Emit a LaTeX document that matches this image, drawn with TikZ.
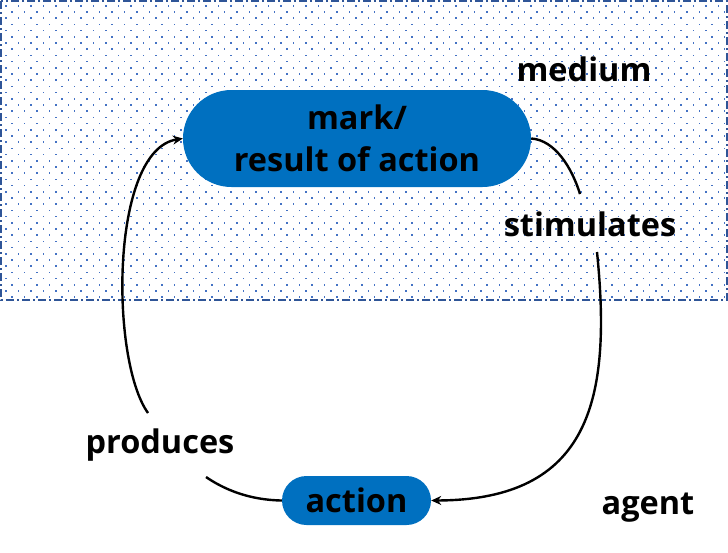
\documentclass[tikz,border=0pt]{standalone}
\usepackage{fontspec}
\setmainfont{Open Sans}
\usetikzlibrary{shapes.misc,arrows.meta}
\definecolor{pillc}{HTML}{0070C0}
\definecolor{dotc}{HTML}{4472C4}
\definecolor{framec}{HTML}{2F5597}
\tikzset{
  pill/.style={rounded rectangle, fill=pillc, draw=none, align=center, font=\fontsize{32.5}{42}\selectfont\bfseries, text=black, inner sep=0pt},
  lbl/.style={font=\fontsize{32.5}{38}\selectfont\bfseries, text=black, inner sep=0pt},
  conn/.style={line width=2.4pt, black},
  arr/.style={conn, -{Stealth[length=10pt,width=9pt]}}
}
\begin{document}
\begin{tikzpicture}[x=1pt,y=-1pt]
\useasboundingbox (0,0) rectangle (728,552);
\fill[white] (0,0) rectangle (728,552);
\foreach \j in {0,...,47}{
  \foreach \i in {0,...,57}{
    \fill[dotc] ({5+12.5*\i+6.25*mod(\j,2)},{5+6.2*\j}) rectangle ++(1.5,1.5);
  }
}
\draw[framec, line width=1.6pt, dash pattern=on 8pt off 3pt on 2pt off 3pt] (1,1) rectangle (727,300);
\node[pill, minimum width=348pt, minimum height=97pt] (mark) at (357,138.5) {mark/\\result of action};
\node[pill, minimum width=149pt, minimum height=49pt] (action) at (356.5,500.5) {action};
\node[lbl] (medium) at (584,69) {medium};
\node[lbl] (stim) at (590,224) {stimulates};
\node[lbl] (prod) at (160,445) {produces};
\node[lbl] (agent) at (648,508) {agent};
\coordinate (s1) at (580,194);
\coordinate (s2) at (597,252);
\coordinate (p1) at (206,477);
\coordinate (p2) at (148,413);
\draw[conn] (mark.east) .. controls (555,140) and (572,168) .. (s1);
\draw[arr] (s2) .. controls (612,400) and (590,500) .. (action.east);
\draw[conn] (action.west) .. controls (250,500) and (225,490) .. (p1);
\draw[arr] (p2) .. controls (110,360) and (110,150) .. (mark.west);
\end{tikzpicture}
\end{document}
